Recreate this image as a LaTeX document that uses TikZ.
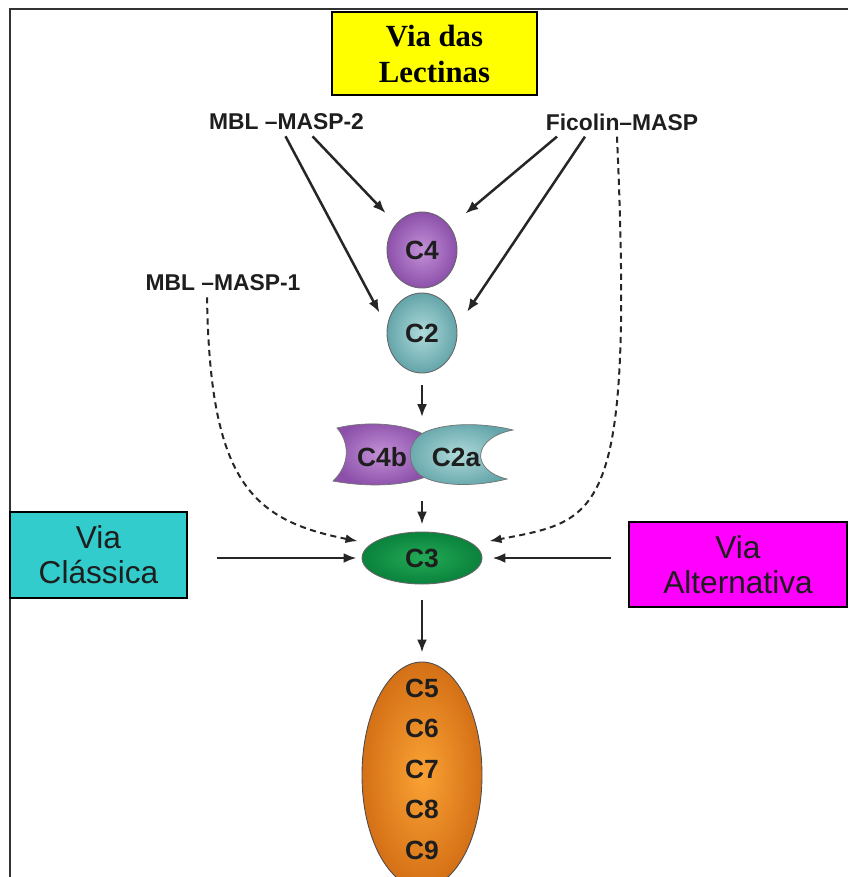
\documentclass[tikz,border=0pt]{standalone}
\usepackage{fontspec}
\setmainfont{Liberation Sans}
\newfontfamily\viaserif{Liberation Serif}
\usetikzlibrary{shapes.geometric,arrows.meta}

\definecolor{lectyellow}{RGB}{255,255,0}
\definecolor{classcyan}{RGB}{51,204,204}
\definecolor{altmagenta}{RGB}{255,0,255}
\definecolor{purpleout}{RGB}{140,80,170}
\definecolor{purplein}{RGB}{195,145,215}
\definecolor{tealout}{RGB}{100,165,170}
\definecolor{tealin}{RGB}{175,218,218}
\definecolor{greenout}{RGB}{10,130,60}
\definecolor{greenin}{RGB}{35,170,85}
\definecolor{orangeout}{RGB}{212,112,22}
\definecolor{orangein}{RGB}{250,162,52}
\definecolor{inktext}{RGB}{30,30,30}

\begin{document}
\begin{tikzpicture}[
  pathbox/.style={rectangle,draw=black,line width=0.045cm,align=center,inner sep=0pt,
    text=inktext,font=\fontsize{18}{20}\selectfont},
  agent/.style={font=\fontsize{13}{15}\selectfont\bfseries,text=inktext},
  prot/.style={ellipse,draw=black!60,line width=0.5pt,inner sep=0pt,
    font=\fontsize{15}{17}\selectfont\bfseries,text=inktext},
  plabel/.style={font=\fontsize{15}{17}\selectfont\bfseries,text=inktext},
  arr/.style={-{Latex[length=2.6mm,width=2mm]},line width=0.05cm,draw=black!85},
  darr/.style={-{Latex[length=2.4mm,width=1.8mm]},line width=0.04cm,draw=black!85,
    dash pattern=on 3.5pt off 2.5pt}
]

\useasboundingbox (0,0) rectangle (16.96,-17.54);
\clip (0,0) rectangle (16.96,-17.54);

\draw[line width=0.05cm,black!80] (0.2,-17.54) -- (0.2,-0.18) -- (16.96,-0.18);

\node at (8.69,-1.07) [pathbox,fill=lectyellow,minimum width=4.1cm,minimum height=1.66cm,
  font=\viaserif\bfseries\fontsize{17.5}{20.5}\selectfont,text=black] (lectinas) {Via das\\Lectinas};

\node at (5.73,-2.44) [agent] (mbltwo) {MBL –MASP-2};
\node at (12.44,-2.44) [agent] (ficolin) {Ficolin–MASP};
\node at (4.46,-5.66) [agent] (mblone) {MBL –MASP-1};

\node at (8.44,-5.0) [prot,inner color=purplein,outer color=purpleout,
  minimum width=1.4cm,minimum height=1.52cm] (cfour) {C4};
\node at (8.44,-6.66) [prot,inner color=tealin,outer color=tealout,
  minimum width=1.4cm,minimum height=1.6cm] (ctwo) {C2};

\node at (8.44,-9.1) [minimum width=3.6cm,minimum height=1.1cm] (complex) {};
\draw[draw=black!55,line width=0.4pt,inner color=purplein,outer color=purpleout]
  (6.74,-8.56) .. controls (7.4,-8.4) and (8.2,-8.48) .. (8.6,-8.76)
  -- (8.6,-9.5) .. controls (8.1,-9.74) and (7.3,-9.74) .. (6.66,-9.62)
  .. controls (7.0,-9.3) and (7.0,-8.86) .. (6.74,-8.56) -- cycle;
\draw[draw=black!55,line width=0.4pt,inner color=tealin,outer color=tealout]
  (10.26,-8.6) .. controls (9.44,-8.76) and (9.4,-9.4) .. (10.14,-9.58)
  .. controls (9.6,-9.72) and (8.8,-9.76) .. (8.4,-9.5)
  .. controls (8.1,-9.24) and (8.16,-8.8) .. (8.5,-8.64)
  .. controls (9.0,-8.42) and (9.8,-8.48) .. (10.26,-8.6) -- cycle;
\node at (7.64,-9.14) [plabel] (cfourb) {C4b};
\node at (9.12,-9.14) [plabel] (ctwoa) {C2a};

\node at (8.44,-11.16) [prot,inner color=greenin,outer color=greenout,
  minimum width=2.4cm,minimum height=1.04cm] (cthree) {C3};

\node at (1.97,-11.1) [pathbox,fill=classcyan,minimum width=3.54cm,minimum height=1.72cm] (classica) {Via\\Clássica};
\node at (14.76,-11.29) [pathbox,fill=altmagenta,minimum width=4.36cm,minimum height=1.7cm] (alternativa) {Via\\Alternativa};

\node at (8.44,-15.5) [prot,draw=black!70,inner color=orangein,outer color=orangeout,
  minimum width=2.4cm,minimum height=4.52cm] (cfive) {};
\foreach \n [count=\i] in {5,...,9}
  \node at (8.44,{-13.76-0.81*(\i-1)}) [plabel] (c\n) {C\n};

\draw[arr,shorten >=0.3cm] ([xshift=0.52cm]mbltwo.south) -- (cfour.135);
\draw[arr,shorten >=0.32cm] ([xshift=-0.02cm]mbltwo.south) -- (ctwo.170);
\draw[arr,shorten >=0.4cm] ([xshift=-1.3cm]ficolin.south) -- (cfour.40);
\draw[arr,shorten >=0.36cm] ([xshift=-0.74cm]ficolin.south) -- (ctwo.10);

\draw[arr,shorten <=0.24cm,shorten >=0.2cm] (ctwo.south) -- (complex.north);
\draw[arr,shorten <=0.36cm,shorten >=0.14cm] (complex.south) -- (cthree.north);
\draw[arr,shorten <=0.32cm,shorten >=0.18cm] (cthree.south) -- (cfive.north);

\draw[arr,shorten <=0.58cm,shorten >=0.1cm] (classica.east |- cthree.west) -- (cthree.west);
\draw[arr,shorten <=0.34cm,shorten >=0.2cm] (alternativa.west |- cthree.east) -- (cthree.east);

\draw[darr] ([xshift=-0.32cm]mblone.south) .. controls (4.2,-9.6) and (5.0,-10.4) .. ([xshift=-0.36cm]cthree.160);
\draw[darr] ([xshift=-0.1cm]ficolin.south) .. controls (12.68,-10.4) and (12.0,-10.4) .. ([xshift=0.42cm]cthree.20);

\end{tikzpicture}
\end{document}
